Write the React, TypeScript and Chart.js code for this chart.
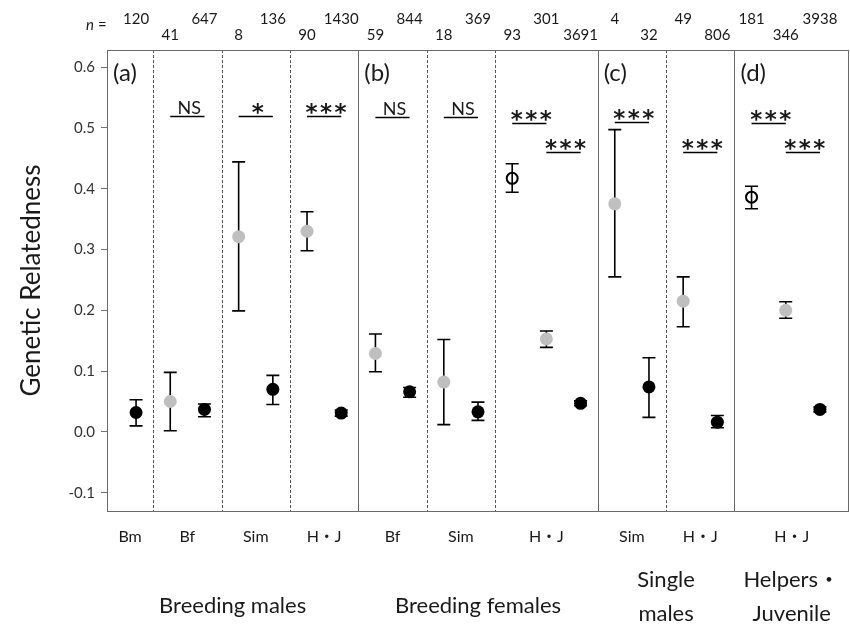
import React, { useEffect, useRef } from 'react';
import { Chart, registerables } from 'chart.js';

Chart.register(...registerables);

const FONT = "Lato, 'Noto Sans CJK JP', sans-serif";

// one entry per plotted point, left to right (x index = position in array)
const pointKinds = ['black', 'gray', 'black', 'gray', 'black', 'gray', 'black',
  'gray', 'black', 'gray', 'black', 'open', 'gray', 'black',
  'gray', 'black', 'gray', 'black',
  'open', 'gray', 'black'];
const means = [0.032, 0.050, 0.037, 0.321, 0.070, 0.330, 0.031,
  0.129, 0.066, 0.082, 0.033, 0.417, 0.153, 0.047,
  0.375, 0.074, 0.215, 0.016,
  0.386, 0.200, 0.037];
const lowers = [0.010, 0.002, 0.025, 0.199, 0.045, 0.298, 0.026,
  0.099, 0.057, 0.012, 0.019, 0.394, 0.139, 0.043,
  0.255, 0.024, 0.173, 0.007,
  0.367, 0.187, 0.033];
const uppers = [0.053, 0.098, 0.046, 0.444, 0.093, 0.362, 0.036,
  0.161, 0.073, 0.152, 0.049, 0.441, 0.166, 0.051,
  0.497, 0.122, 0.255, 0.027,
  0.404, 0.214, 0.041];
const nValues = ['120', '41', '647', '8', '136', '90', '1430', '59', '844', '18', '369',
  '93', '301', '3691', '4', '32', '49', '806', '181', '346', '3938'];

// section boundaries on the x scale
const xMin = -0.85;
const xMax = 20.85;
const solidBounds = [6.5, 13.5, 17.5];
const dashedBounds = [0.5, 2.5, 4.5, 8.5, 10.5, 15.5];
const sectionEdges = [-0.85, 0.5, 2.5, 4.5, 6.5, 8.5, 10.5, 13.5, 15.5, 17.5, 20.85];
const sectionLabels = ['Bm', 'Bf', 'Sim', 'H・J', 'Bf', 'Sim', 'H・J', 'Sim', 'H・J', 'H・J'];

// panels
const panelEdges = [-0.85, 6.5, 13.5, 17.5, 20.85];
const panelTags = ['(a)', '(b)', '(c)', '(d)'];
const groupLabels = [['Breeding males'], ['Breeding females'], ['Single', 'males'], ['Helpers・', 'Juvenile']];

// significance marks
const sigFrom = [1, 3, 5, 7, 9, 11, 12, 14, 16, 18, 19];
const sigTo = [2, 4, 6, 8, 10, 12, 13, 15, 17, 19, 20];
const sigText = ['NS', '*', '***', 'NS', 'NS', '***', '***', '***', '***', '***', '***'];
const sigY = [0.52, 0.52, 0.52, 0.518, 0.518, 0.508, 0.461, 0.51, 0.461, 0.508, 0.461];

const yTicks = [-0.1, 0, 0.1, 0.2, 0.3, 0.4, 0.5, 0.6];

function pts(kind: string) {
  return means
    .map((m, i) => ({ x: i, y: m, k: pointKinds[i] }))
    .filter((p) => p.k === kind)
    .map((p) => ({ x: p.x, y: p.y }));
}

const overlay = {
  id: 'overlay',
  beforeDatasetsDraw(chart: any) {
    const { ctx, chartArea: a, scales } = chart;
    const x = scales.x;
    const y = scales.y;
    ctx.save();
    ctx.strokeStyle = '#6b6b6b';
    ctx.lineWidth = 1;
    solidBounds.forEach((b) => {
      const px = Math.round(x.getPixelForValue(b)) + 0.5;
      ctx.beginPath();
      ctx.moveTo(px, a.top);
      ctx.lineTo(px, a.bottom);
      ctx.stroke();
    });
    ctx.setLineDash([3, 2]);
    ctx.strokeStyle = '#555';
    dashedBounds.forEach((b) => {
      const px = Math.round(x.getPixelForValue(b)) + 0.5;
      ctx.beginPath();
      ctx.moveTo(px, a.top);
      ctx.lineTo(px, a.bottom);
      ctx.stroke();
    });
    ctx.setLineDash([]);
    // error bars
    ctx.strokeStyle = '#000';
    ctx.lineWidth = 1.6;
    means.forEach((m, i) => {
      const px = x.getPixelForValue(i);
      const yl = y.getPixelForValue(lowers[i]);
      const yh = y.getPixelForValue(uppers[i]);
      const cap = 6.5;
      ctx.beginPath();
      ctx.moveTo(px, yl);
      ctx.lineTo(px, yh);
      ctx.moveTo(px - cap, yl);
      ctx.lineTo(px + cap, yl);
      ctx.moveTo(px - cap, yh);
      ctx.lineTo(px + cap, yh);
      ctx.stroke();
    });
    ctx.restore();
  },
  afterDraw(chart: any) {
    const { ctx, chartArea: a, scales } = chart;
    const x = scales.x;
    const y = scales.y;
    ctx.save();
    // frame
    ctx.strokeStyle = '#6b6b6b';
    ctx.lineWidth = 1;
    ctx.strokeRect(Math.round(a.left) + 0.5, Math.round(a.top) + 0.5, Math.round(a.right - a.left) - 1, Math.round(a.bottom - a.top));

    ctx.fillStyle = '#1a1a1a';
    ctx.textAlign = 'center';
    ctx.textBaseline = 'middle';
    // n labels
    ctx.font = `15px ${FONT}`;
    nValues.forEach((n, i) => {
      const px = x.getPixelForValue(i);
      ctx.fillText(n, px, i % 2 === 0 ? a.top - 31 : a.top - 15);
    });
    const nx = x.getPixelForValue(0) - 42;
    ctx.textAlign = 'right';
    ctx.font = `italic 15px ${FONT}`;
    ctx.fillText('n', nx, a.top - 25);
    ctx.font = `15px ${FONT}`;
    ctx.textAlign = 'left';
    ctx.fillText(' =', nx, a.top - 25);

    // panel tags
    ctx.font = `24px ${FONT}`;
    ctx.textAlign = 'left';
    panelTags.forEach((t, i) => {
      ctx.fillText(t, x.getPixelForValue(panelEdges[i]) + 6, a.top + 23);
    });

    // significance
    ctx.strokeStyle = '#000';
    ctx.lineWidth = 1.5;
    sigText.forEach((t, i) => {
      const x1 = x.getPixelForValue(sigFrom[i]);
      const x2 = x.getPixelForValue(sigTo[i]);
      const py = Math.round(y.getPixelForValue(sigY[i])) + 0.5;
      ctx.beginPath();
      ctx.moveTo(x1, py);
      ctx.lineTo(x2, py);
      ctx.stroke();
      const cx = (x1 + x2) / 2 + 2;
      ctx.textAlign = 'center';
      ctx.textBaseline = 'alphabetic';
      if (t === 'NS') {
        ctx.font = `18px ${FONT}`;
        ctx.fillText(t, cx, py - 3);
      } else {
        ctx.font = `bold 23px 'DejaVu Sans', sans-serif`;
        const count = t.length;
        for (let k = 0; k < count; k++) {
          ctx.fillText('*', cx + (k - (count - 1) / 2) * 14.5, py + 3);
        }
      }
    });

    // section labels
    ctx.textBaseline = 'middle';
    ctx.textAlign = 'center';
    ctx.font = `16px ${FONT}`;
    sectionLabels.forEach((t, i) => {
      const px = (x.getPixelForValue(sectionEdges[i]) + x.getPixelForValue(sectionEdges[i + 1])) / 2;
      ctx.fillText(t, px, a.bottom + 26);
    });

    // group labels
    ctx.font = `22px ${FONT}`;
    groupLabels.forEach((lines, i) => {
      const px = (x.getPixelForValue(panelEdges[i]) + x.getPixelForValue(panelEdges[i + 1])) / 2;
      if (lines.length === 1) {
        ctx.fillText(lines[0], px, a.bottom + 95);
      } else {
        ctx.fillText(lines[0], px, a.bottom + 69);
        ctx.fillText(lines[1], px, a.bottom + 103);
      }
    });
    ctx.restore();
  },
};

export default function App() {
  const ref = useRef<HTMLCanvasElement>(null);
  useEffect(() => {
    if (!ref.current) return;
    const chart = new Chart(ref.current, {
      type: 'scatter',
      data: {
        datasets: [
          {
            label: 'gray',
            data: pts('gray'),
            pointRadius: 6.5,
            pointBackgroundColor: '#bfbfbf',
            pointBorderWidth: 0,
            borderWidth: 0,
          },
          {
            label: 'black',
            data: pts('black'),
            pointRadius: 6.5,
            pointBackgroundColor: '#000',
            pointBorderWidth: 0,
            borderWidth: 0,
          },
          {
            label: 'open',
            data: pts('open'),
            pointRadius: 5.5,
            pointBackgroundColor: 'rgba(255,255,255,0)',
            pointBorderColor: '#000',
            pointBorderWidth: 2,
          },
        ],
      },
      options: {
        responsive: false,
        animation: false,
        layout: { autoPadding: false, padding: { top: 50, right: 1, bottom: 123, left: 0 } },
        plugins: { legend: { display: false }, tooltip: { enabled: false } },
        scales: {
          x: { type: 'linear', min: xMin, max: xMax, display: false },
          y: {
            min: -0.13,
            max: 0.628,
            afterBuildTicks: (s: any) => {
              s.ticks = yTicks.map((v) => ({ value: v }));
            },
            afterFit: (s: any) => {
              s.width = 107;
            },
            grid: { drawOnChartArea: false, drawTicks: true, tickLength: 6, color: '#777' },
            border: { display: true, color: '#6b6b6b' },
            ticks: {
              padding: 6,
              color: '#333',
              font: { family: FONT, size: 15 },
              callback: (v: any) => Number(v).toFixed(1),
            },
            title: {
              display: true,
              text: 'Genetic Relatedness',
              color: '#1a1a1a',
              font: { family: FONT, size: 26 },
              padding: { top: 16, bottom: 0 },
            },
          },
        },
      },
      plugins: [overlay],
    });
    return () => chart.destroy();
  }, []);
  return (
    <div style={{ position: 'fixed', left: 0, top: 0, width: 850, height: 634, background: '#fff' }}>
      <canvas ref={ref} width={850} height={634} style={{ display: 'block' }} />
    </div>
  );
}
